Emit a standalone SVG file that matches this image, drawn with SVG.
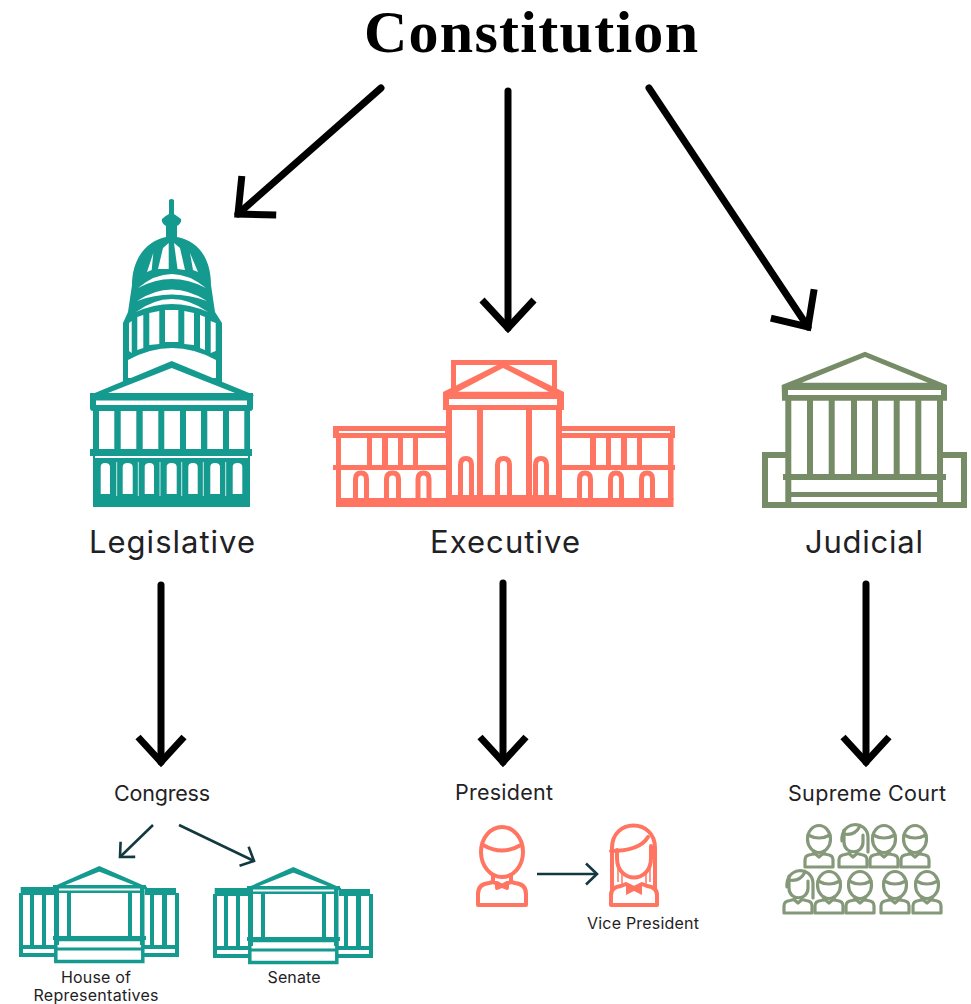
<svg xmlns="http://www.w3.org/2000/svg" xmlns:xlink="http://www.w3.org/1999/xlink" width="971" height="1004" viewBox="0 0 971 1004">
<style>
.t{fill:#159a90}.ts{fill:none;stroke:#159a90;stroke-width:3.5}
.c{fill:#ff7561}.cs{fill:none;stroke:#ff7561;stroke-width:5}
.o{fill:#768c66}.os{fill:none;stroke:#768c66;stroke-width:6}
.w{fill:#fff}
.lbl{font-family:"Inter","Open Sans",sans-serif;fill:#1f2224;text-anchor:middle}
.big{font-size:31px}.mid{font-size:21.500px}.sm{font-size:16px}
.arrow{fill:none;stroke:#000;stroke-width:7;stroke-linecap:round}
.thin{fill:none;stroke:#12393f;stroke-width:2.600}
.pc{fill:none;stroke:#ff7561;stroke-width:4;stroke-linejoin:round;stroke-linecap:round}
.po{fill:none;stroke:#85997a;stroke-width:3.200;stroke-linejoin:round;stroke-linecap:round}
</style>
<defs>
<marker id="hb" markerUnits="userSpaceOnUse" markerWidth="70" markerHeight="70" refX="35" refY="35" orient="auto" overflow="visible"><path d="M7,9 L35,35 L7,61" fill="none" stroke="#000" stroke-width="7"/></marker>
<marker id="hm" markerUnits="userSpaceOnUse" markerWidth="70" markerHeight="70" refX="35" refY="35" orient="auto" overflow="visible"><path d="M10,12 L35,35 L10,58" fill="none" stroke="#000" stroke-width="7"/></marker>
<marker id="hs" markerUnits="userSpaceOnUse" markerWidth="40" markerHeight="40" refX="20" refY="20" orient="auto" overflow="visible"><path d="M9,9.500 L20,20 L9,30.500" fill="none" stroke="#12393f" stroke-width="2.600"/></marker>
<g id="hall">
<path class="t" d="M52.700,888 L99.300,867 L146.700,888 L144,888 L99.300,870.500 L55,888 Z" stroke="#159a90" stroke-width="2"/>
<path class="t" d="M53,885 H146 V888.500 H53 Z"/>
<path class="t" d="M20.700,887 H55 V895 H20.700 Z M145,888 H176 V895 H145 Z"/>
<path class="t" d="M56,890.500 H144 V893 H56 Z"/>
<path class="t" d="M19,893 H23 V957 H19 Z M30,893 H34 V946 H30 Z M42,893 H46 V946 H42 Z M54,888 H59 V945 H54 Z M67,893 H71 V938 H67 Z M128,893 H132 V938 H128 Z M140,888 H144.500 V945 H140 Z M150,893 H154 V946 H150 Z M162,893 H167 V946 H162 Z M175,893 H179 V957 H175 Z"/>
<path class="t" d="M19,945 H55 V949 H19 Z M144,945 H179 V949 H144 Z M19,953 H55 V957 H19 Z M144,953 H179 V957 H144 Z"/>
<path class="t" d="M53,936 H146 V940 H53 Z M56,947.500 H143 V950.500 H56 Z"/>
<rect x="55.800" y="939.500" width="87" height="22" fill="none" stroke="#159a90" stroke-width="3.500"/>
</g>
<g id="man">
<ellipse cx="502" cy="852" rx="21" ry="25" class="pc"/>
<path class="pc" d="M483,845 Q502,856 521,845 M493,875 V882 M511,875 V882"/>
<path class="pc" d="M478,905 V894 Q478,884 489,883 L493,882 L502,886 L511,882 L515,883 Q526,884 526,894 V905 Z"/>
<path class="pc" d="M497,883 L502,886 L507,883 V888 L502,886 L497,888 Z" stroke-width="2.500"/>
</g>
<g id="woman">
<path class="pc" d="M612,889 V848 C612,818 655,818 655,848 V889"/>
<path class="pc" d="M611,851 C628,851 642,847 648,837"/>
<path class="pc" d="M617,850 V858 C617,884 651,884 651,858 V846"/>
<path d="M618,858 V882 M622,870 V884 M646,870 V884 M650,858 V882" fill="none" stroke="#ff7561" stroke-width="1.500"/>
<path class="pc" d="M611,905 V895 Q611,887 621,886 L626,884 L634,888 L642,884 L647,886 Q657,887 657,895 V905 Z"/>
<path class="c" d="M626,885 L634,889 L642,885 V895 L634,891 L626,895 Z"/>
</g>
<g id="judge">
<ellipse cx="0" cy="0" rx="11.500" ry="13.500" class="po"/>
<path class="po" d="M-11,-4 Q0,2 11,-4 M-5,12 V15 M5,12 V15"/>
<path class="po" d="M-14,28 V21 Q-14,16 -8,15.500 L-4,14.500 L0,18 L4,14.500 L8,15.500 Q14,16 14,21 V28 Z"/>
</g>
<g id="judge-f">
<path class="po" d="M-11,2 C-13,-18 14,-20 15,-2 V13"/>
<path class="po" d="M-9,-9 V3 C-9,16 10,16 10,3 V-4 M-9,-5 Q2,-3 7,-13"/>
<path class="po" d="M-14,28 V21 Q-14,16 -8,15.500 L-4,14.500 L0,18 L4,14.500 L8,15.500 Q14,16 14,21 V28 Z"/>
</g>
</defs>

<rect width="971" height="1004" fill="#fff"/>

<g id="connectors">
<path class="arrow" d="M381,88 L238,214" marker-end="url(#hb)"/>
<path class="arrow" d="M508,91 V328" marker-end="url(#hb)"/>
<path class="arrow" d="M649,88 L808,327" marker-end="url(#hb)"/>
<path class="arrow" d="M161,585 V762" marker-end="url(#hm)"/>
<path class="arrow" d="M503,583 V762" marker-end="url(#hm)"/>
<path class="arrow" d="M866,584 V762" marker-end="url(#hm)"/>
<path class="thin" d="M153,825 L120,857" marker-end="url(#hs)"/>
<path class="thin" d="M179,825 L254,861" marker-end="url(#hs)"/>
<path class="thin" d="M537,874 H597" marker-end="url(#hs)"/>
</g>

<g id="constitution"><text x="531" y="52" font-family="'Liberation Serif',serif" font-weight="700" font-size="60" text-anchor="middle" fill="#000" textLength="334">Constitution</text></g>

<g id="legislative">
<path class="t" d="M169,200 Q171.500,198 174,200 V214 Q177,216 181,219 Q182,223 177,226 V237 C198,241 211,258 211,285 L215,312 L222,323 V385 H123 V323 L128,312 L132,285 C132,258 147,241 166,237 V226 Q161,223 162,219 Q165,216 169,214 Z"/>
<path class="w" d="M158,269 L163,248 L168.700,243 V269 Z M174,243 L180,248 L185,270 L177.500,269 Z M147,272 L153.300,253 L151.700,270 Z M190,253 L198,272 L193,270 Z"/>
<path class="w" d="M138,288 Q171.500,260 206,288 Q171.500,270 138,288 Z M137,301 Q171.500,278 207,301 Q171.500,288 137,301 Z M136,312 Q171.500,286 208,312 Q171.500,296 136,312 Z"/>
<path class="w" d="M129,323 L131.700,321 V353 L129,351 Z M137.300,317 L143.300,315 V348 L137.300,350 Z M149.300,313 L159.300,311 V344 L149.300,345 Z M165,310 H178.300 V342 H165 Z M184.300,311 L194,313 V345 L184.300,344 Z M200,315 L205,317 V350 L200,348 Z M210.700,321 L215.700,323 V351 L210.700,353 Z"/>
<path class="w" d="M128,360 Q172,336 216,360 V378 H128 Z"/>
<path class="t" d="M90,395 L171.700,361 L254,395 L252,397 H92 Z"/>
<path class="w" d="M108,393 L171.700,368 L235,393 Z"/>
<path class="t" d="M90,393 H253 V408 Q253,411 250,411 V507 H93 V411 Q90,411 90,408 Z"/>
<path class="w" d="M96,400.500 H247 V405 H96 Z"/>
<path class="w" d="M99,411 H114.300 V449 H99 Z M120.700,411 H136.300 V449 H120.700 Z M142.700,411 H158.300 V449 H142.700 Z M164.300,411 H180 V449 H164.300 Z M186,411 H201 V449 H186 Z M207.300,411 H223 V449 H207.300 Z M229,411 H244.300 V449 H229 Z"/>
<path class="t" d="M90,449 H252 V456 H90 Z"/>
<path class="w" d="M95,456 H248 V458 H95 Z"/>
<path d="M116.700,462 V496 M138.300,462 V496 M160,462 V496 M181.700,462 V496 M203.300,462 V496 M225.700,462 V496" fill="none" stroke="#fff" stroke-width="0.800"/>
<path class="w" d="M100.700,494 V467 Q100.700,463 105,463 Q110,463 110,467 V494 Z M122.700,494 V467 Q122.700,463 127.500,463 Q132.700,463 132.700,467 V494 Z M144.700,494 V467 Q144.700,463 149.500,463 Q154,463 154,467 V494 Z M166.700,494 V467 Q166.700,463 171.500,463 Q176.700,463 176.700,467 V494 Z M188.300,494 V467 Q188.300,463 193,463 Q197.700,463 197.700,467 V494 Z M210.300,494 V467 Q210.300,463 215,463 Q220,463 220,467 V494 Z M232.700,494 V467 Q232.700,463 237.500,463 Q242.300,463 242.300,467 V494 Z"/>
<text class="lbl big" x="172" y="553" textLength="166">Legislative</text>
</g>

<g id="executive">
<rect x="453.500" y="362.500" width="101" height="30" fill="none" stroke="#ff7561" stroke-width="5"/>
<path class="c" d="M443,392 L503,362 L564,392 V410 H443 Z"/>
<path class="w" d="M458,391.700 L503,368 L549,391.700 Z"/>
<path class="c" d="M443,392 H564 V410 H443 Z"/>
<path class="w" d="M449,399 H557 V405 H449 Z"/>
<path class="c" d="M446,410 H452 V500 H446 Z M477,410 H483 V500 H477 Z M526,410 H532 V500 H526 Z M556,410 H562 V500 H556 Z"/>
<path class="c" d="M333,426 H446 V438 H333 Z M561,426 H675 V438 H561 Z"/>
<path class="w" d="M339,431 H445 V433 H339 Z M562,431 H670 V433 H562 Z"/>
<path class="c" d="M336,436 H341 V500 H336 Z M668,436 H673.500 V500 H668 Z M367,438 H372 V465 H367 Z M382,438 H388 V465 H382 Z M398,438 H403 V465 H398 Z M413,438 H418 V465 H413 Z M590,438 H596 V465 H590 Z M606,438 H611 V465 H606 Z M621,438 H627 V465 H621 Z M637,438 H642 V465 H637 Z"/>
<path class="c" d="M333,465 H446 V470 H333 Z M561,465 H675 V470 H561 Z"/>
<path class="cs" d="M355.500,499 V479 Q355.500,473 361,473 Q366.500,473 366.500,479 V499 M386.500,499 V479 Q386.500,473 392.500,473 Q398.500,473 398.500,479 V499 M418,499 V479 Q418,473 423.500,473 Q429,473 429,479 V499 M579.500,499 V479 Q579.500,473 585,473 Q590.500,473 590.500,479 V499 M610.500,499 V479 Q610.500,473 616,473 Q621.500,473 621.500,479 V499 M641.500,499 V479 Q641.500,473 647,473 Q652.500,473 652.500,479 V499"/>
<path class="cs" d="M460.500,497 V465 Q460.500,458.500 466,458.500 Q471.500,458.500 471.500,465 V497 M497.500,497 V465 Q497.500,458.500 503.500,458.500 Q509.500,458.500 509.500,465 V497 M535.500,497 V465 Q535.500,458.500 541,458.500 Q546.500,458.500 546.500,465 V497"/>
<path class="c" d="M336,498 H446 V495 H561 V498 H673.500 V507 H336 Z"/>
<text class="lbl big" x="505" y="553" textLength="150">Executive</text>
</g>

<g id="judicial">
<path class="o" d="M781.700,385 L865,351.700 L947,385 V400.700 H782 Z"/>
<path class="w" d="M801.700,382.700 L865,357 L928,382.700 Z"/>
<path class="w" d="M788,390 H941 V395 H788 Z"/>
<path class="os" d="M788.300,400 V504 M810,400 V475 M831.700,400 V475 M854,400 V475 M875,400 V475 M896.700,400 V475 M918.300,400 V475 M940,400 V504"/>
<path class="o" d="M783,474 H946 V480 H783 Z M788,492 H940 V497 H788 Z"/>
<path class="os" d="M786,455 H765 V505 H964 V455 H943"/>
<text class="lbl big" x="864" y="553" textLength="118">Judicial</text>
</g>

<g id="congress"><text class="lbl mid" x="162" y="801" textLength="96">Congress</text></g>
<g id="president"><text class="lbl mid" x="504" y="800" textLength="98">President</text><use xlink:href="#man" href="#man"/></g>
<g id="vice-president"><use xlink:href="#woman" href="#woman"/><text class="lbl sm" x="643" y="929" textLength="112">Vice President</text></g>
<g id="house"><use xlink:href="#hall" href="#hall"/><text class="lbl sm" x="96" y="983" textLength="70">House of</text><text class="lbl sm" x="96" y="1001" textLength="125">Representatives</text></g>
<g id="senate"><use xlink:href="#hall" href="#hall" x="194" y="1"/><text class="lbl sm" x="294" y="983" textLength="53">Senate</text></g>
<g id="supreme-court">
<text class="lbl mid" x="867" y="801" textLength="158">Supreme Court</text>
<use xlink:href="#judge" href="#judge" x="819" y="839"/><use xlink:href="#judge-f" href="#judge-f" x="853" y="839"/><use xlink:href="#judge" href="#judge" x="884" y="839"/><use xlink:href="#judge" href="#judge" x="915" y="839"/>
<use xlink:href="#judge-f" href="#judge-f" x="798" y="885"/><use xlink:href="#judge" href="#judge" x="829" y="885"/><use xlink:href="#judge" href="#judge" x="860" y="885"/><use xlink:href="#judge" href="#judge" x="895" y="885"/><use xlink:href="#judge" href="#judge" x="927" y="885"/>
</g>
</svg>
